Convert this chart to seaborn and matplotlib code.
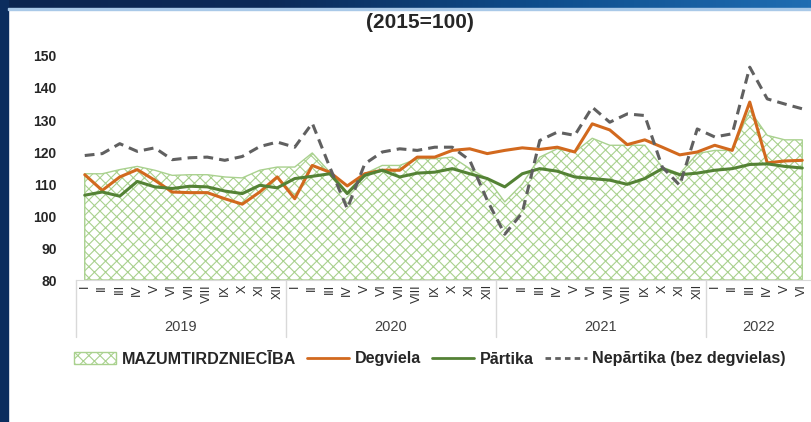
import numpy as np
import pandas as pd
import seaborn as sns
import matplotlib.pyplot as plt
from matplotlib.patches import Patch, Rectangle
from matplotlib.lines import Line2D

sns.set_style('white')
plt.rcParams['font.family'] = ['Liberation Sans', 'DejaVu Sans']
plt.rcParams['hatch.linewidth'] = 0.8

# Mēneši (romiešu cipari) un gadi
romani = ['I', 'II', 'III', 'IV', 'V', 'VI', 'VII', 'VIII', 'IX', 'X', 'XI', 'XII']
menesi = romani * 3 + romani[:6]
gadi = ['2019', '2020', '2021', '2022']
gadu_garums = [12, 12, 12, 6]

# Indeksi (2015=100)
mazumtirdznieciba = [113.2, 113.2, 114.5, 115.5, 114.3, 112.7, 112.9, 112.9, 112.2, 111.9, 114.3, 115.3,
                     115.3, 119.7, 113.7, 107.5, 113.2, 115.8, 115.8, 117.9, 117.9, 118.4, 114.8, 111.7,
                     104.4, 110.0, 118.4, 121.0, 120.0, 124.3, 122.1, 122.1, 122.1, 115.3, 113.2, 119.5,
                     120.5, 120.5, 133.0, 125.2, 123.8, 123.8]
degviela = [112.9, 108.0, 112.2, 114.5, 111.2, 107.5, 107.3, 107.3, 105.4, 103.7, 107.5, 112.2,
            105.4, 115.8, 113.7, 109.4, 113.2, 114.3, 114.3, 118.4, 118.4, 120.5, 121.0, 119.5,
            120.5, 121.3, 120.8, 121.5, 120.0, 128.8, 126.9, 122.3, 123.8, 121.5, 119.1, 120.0,
            122.1, 120.5, 135.6, 116.6, 117.2, 117.4]
partika = [106.5, 107.5, 106.2, 110.8, 109.1, 108.6, 109.3, 109.1, 107.8, 107.0, 109.6, 108.8,
           111.7, 112.4, 113.2, 107.0, 112.7, 114.3, 112.2, 113.4, 113.7, 114.8, 113.2, 111.7,
           109.1, 113.2, 114.8, 114.0, 112.2, 111.7, 111.2, 109.9, 111.7, 114.8, 112.9, 113.4,
           114.3, 114.8, 116.1, 116.3, 115.5, 115.0]
neparitka = [118.9, 119.5, 122.6, 120.2, 121.3, 117.6, 118.2, 118.4, 117.4, 118.6, 121.7, 123.1,
             121.5, 129.0, 115.3, 102.3, 116.3, 120.0, 121.0, 120.5, 121.5, 121.5, 117.4, 104.9,
             94.3, 101.0, 123.6, 126.2, 125.2, 134.0, 129.3, 131.9, 131.4, 115.3, 109.6, 127.2,
             124.7, 125.7, 146.5, 136.6, 135.0, 133.5]

df = pd.DataFrame({'t': np.arange(len(menesi)),
                   'MAZUMTIRDZNIECĪBA': mazumtirdznieciba,
                   'Degviela': degviela,
                   'Pārtika': partika,
                   'Nepārtika (bez degvielas)': neparitka})

c_fill = '#a9d18e'
c_orange = '#d2691e'
c_green = '#548235'
c_grey = '#606060'

fig = plt.figure(figsize=(8.11, 4.22), dpi=100)

# Zilais rāmis (augša un kreisā mala)
grad = fig.add_axes([0, 1 - 8 / 422, 1, 8 / 422])
grad.imshow(np.linspace(0, 1, 256).reshape(1, -1), aspect='auto',
            cmap=plt.matplotlib.colors.LinearSegmentedColormap.from_list(
                'b', ['#0b2550', '#0b2a58', '#0e4d8c', '#1f6db2']))
grad.axis('off')
fig.patches.append(Rectangle((0, 0), 8 / 811, 1, transform=fig.transFigure,
                             color='#0b2d5e', zorder=0))
fig.patches.append(Rectangle((8 / 811, 1 - 10 / 422), 1, 2 / 422, transform=fig.transFigure,
                             color='#a9c9e8', zorder=0))

ax = fig.add_axes([76 / 811, 1 - 280 / 422, 1 - 76 / 811, 224 / 422])

ax.fill_between(df['t'], 80, df['MAZUMTIRDZNIECĪBA'], facecolor='white',
                edgecolor=c_fill, hatch='xxx', linewidth=1.0)
sns.lineplot(data=df, x='t', y='Degviela', color=c_orange, linewidth=2.2, ax=ax)
sns.lineplot(data=df, x='t', y='Pārtika', color=c_green, linewidth=2.2, ax=ax)
sns.lineplot(data=df, x='t', y='Nepārtika (bez degvielas)', color=c_grey,
             linewidth=2.2, linestyle=(0, (3.2, 2)), ax=ax)

ax.set_xlim(-0.5, len(menesi) - 0.5)
ax.set_ylim(80, 150)
ax.set_yticks(range(80, 151, 10))
ax.set_yticklabels([str(v) for v in range(80, 151, 10)], fontsize=10,
                   fontweight='bold', color='#262626')
ax.set_xticks(df['t'])
ax.set_xticklabels(menesi, rotation=90, fontsize=9, color='#303030')
ax.tick_params(axis='both', length=0)
ax.tick_params(axis='y', pad=14)
ax.tick_params(axis='x', pad=3)
ax.set_xlabel('')
ax.set_ylabel('')
for s in ['left', 'top', 'right']:
    ax.spines[s].set_visible(False)
ax.spines['bottom'].set_color('#d9d9d9')

# Gadu grupas zem ass
tr = ax.get_xaxis_transform()
start = 0
for g, n in zip(gadi, gadu_garums):
    ax.plot([start - 0.5, start - 0.5], [0, -57 / 224], color='#d9d9d9',
            linewidth=1, transform=tr, clip_on=False)
    ax.text(start + n / 2 - 0.5, -47 / 224, g, transform=tr, ha='center',
            va='center', fontsize=10.5, color='#404040')
    start += n

fig.text(0.518, 1 - 23 / 422, '(2015=100)', ha='center', va='center',
         fontsize=15, fontweight='bold', color='#262626')

handles = [Patch(facecolor='white', edgecolor=c_fill, hatch='xxx', linewidth=1.0),
           Line2D([], [], color=c_orange, linewidth=2),
           Line2D([], [], color=c_green, linewidth=2),
           Line2D([], [], color=c_grey, linewidth=2, linestyle=(0, (2, 1.5)))]
labels = ['MAZUMTIRDZNIECĪBA', 'Degviela', 'Pārtika', 'Nepārtika (bez degvielas)']
fig.legend(handles, labels, loc='center', bbox_to_anchor=(0.53, 1 - 359 / 422), ncol=4,
           frameon=False, handlelength=2.6, handletextpad=0.35, columnspacing=0.7,
           prop={'weight': 'bold', 'size': 11.6})

fig.savefig('out.png', dpi=100)
